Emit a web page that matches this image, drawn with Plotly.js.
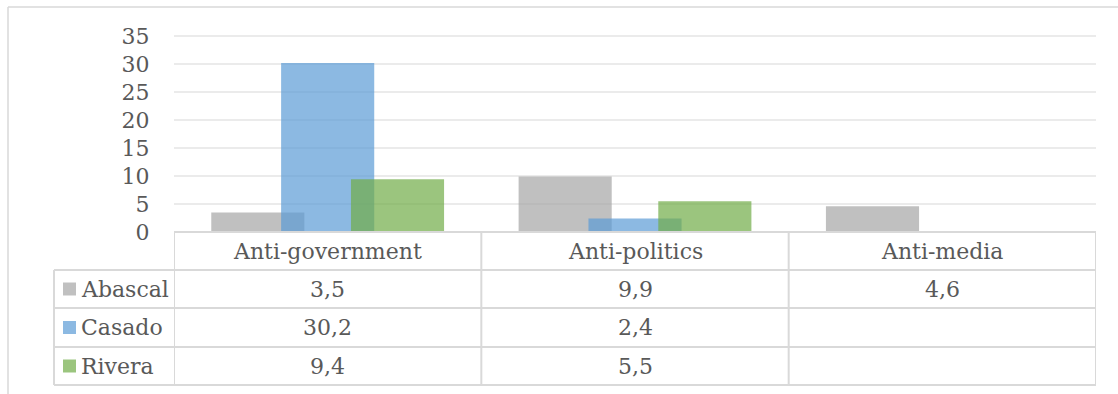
<!DOCTYPE html>
<html>
<head>
<meta charset="utf-8">
<script src="https://cdn.plot.ly/plotly-3.0.1.min.js"></script>
<style>
  html, body { margin: 0; padding: 0; background: #ffffff; }
  #chart { width: 1118px; height: 394px; }
</style>
</head>
<body>
<div id="chart"></div>
<script>
// Categories and series values (comma is the decimal mark in the table)
const categories = ['Anti-government', 'Anti-politics', 'Anti-media'];
const seriesNames = ['Abascal', 'Casado', 'Rivera'];
const abascal = [3.5, 9.9, 4.6];
const casado = [30.2, 2.4, null];
const rivera = [9.4, 5.5, null];
const yTicks = [0, 5, 10, 15, 20, 25, 30, 35];

// Office-style accent colours, drawn at 70 % opacity so overlaps show through
const seriesColors = ['rgba(165,165,165,0.7)', 'rgba(91,155,213,0.7)', 'rgba(112,173,71,0.7)'];
const seriesValues = [abascal, casado, rivera];

const W = 1118, H = 394;
const fontFamily = 'DejaVu Serif';
const fontSize = 22;
const textColor = '#595959';
const lineColor = '#d9d9d9';

// page geometry in pixels
const plotLeft = 174, plotRight = 1096;
const axisY = 232, topTickY = 36;
const rowLines = [232, 270, 308, 347, 385];
const tableLeft = 54;
const pxPerUnit = (axisY - topTickY) / 35;
const yMax = 35.5;

const px = x => x / W;
const py = y => (H - y) / H;

// clustered bars with 25 % overlap
const barWidth = 0.303;
const step = barWidth * 0.75;
const firstOffset = -(barWidth + 2 * step) / 2;

const traces = seriesValues.map((vals, i) => ({
  type: 'bar',
  name: seriesNames[i],
  x: categories,
  y: vals,
  width: barWidth,
  offset: firstOffset + i * step,
  marker: { color: seriesColors[i], line: { width: 0 } },
  hoverinfo: 'x+y+name'
}));

const fmt = v => (v === null || v === undefined) ? '' : v.toFixed(1).replace('.', ',');

const textFont = { family: fontFamily, size: fontSize, color: textColor };
const annotations = [];
const shapes = [];
const rowCenter = k => (rowLines[k] + rowLines[k + 1]) / 2;

// header row: category names
categories.forEach(c => {
  annotations.push({
    x: c, xref: 'x', y: py(rowCenter(0)), yref: 'paper',
    text: c, showarrow: false, xanchor: 'center', yanchor: 'middle',
    font: textFont
  });
});

// data rows: legend key, series name and values
seriesNames.forEach((name, i) => {
  const cy = rowCenter(i + 1);
  shapes.push({
    type: 'rect', xref: 'paper', yref: 'paper',
    x0: px(63), x1: px(76), y0: py(cy + 6.5), y1: py(cy - 6.5),
    fillcolor: seriesColors[i], line: { width: 0 }
  });
  annotations.push({
    x: px(79), xref: 'paper', y: py(cy), yref: 'paper',
    text: name, showarrow: false, xanchor: 'left', yanchor: 'middle',
    font: textFont
  });
  categories.forEach((c, j) => {
    annotations.push({
      x: c, xref: 'x', y: py(cy), yref: 'paper',
      text: fmt(seriesValues[i][j]), showarrow: false, xanchor: 'center', yanchor: 'middle',
      font: textFont
    });
  });
});

// table grid
rowLines.forEach((ry, k) => {
  shapes.push({
    type: 'line', xref: 'paper', yref: 'paper',
    x0: px(k === 0 ? plotLeft : tableLeft), x1: px(plotRight),
    y0: py(ry), y1: py(ry),
    line: { color: lineColor, width: 2 }
  });
});
[-0.5, 0.5, 1.5, 2.5].forEach(xv => {
  shapes.push({
    type: 'line', xref: 'x', yref: 'paper',
    x0: xv, x1: xv, y0: py(rowLines[0]), y1: py(rowLines[rowLines.length - 1]),
    line: { color: lineColor, width: 2 }
  });
});
shapes.push({
  type: 'line', xref: 'paper', yref: 'paper',
  x0: px(tableLeft), x1: px(tableLeft), y0: py(rowLines[1]), y1: py(rowLines[rowLines.length - 1]),
  line: { color: lineColor, width: 2 }
});

// chart frame (top and left edges)
shapes.push({
  type: 'line', xref: 'paper', yref: 'paper',
  x0: px(8), x1: 1, y0: py(7), y1: py(7),
  line: { color: lineColor, width: 1.5 }
});
shapes.push({
  type: 'line', xref: 'paper', yref: 'paper',
  x0: px(8), x1: px(8), y0: py(7), y1: 0,
  line: { color: lineColor, width: 1.5 }
});

const layout = {
  width: W, height: H,
  margin: { l: 0, r: 0, t: 0, b: 0, pad: 0 },
  paper_bgcolor: '#ffffff',
  plot_bgcolor: '#ffffff',
  barmode: 'overlay',
  showlegend: false,
  font: textFont,
  xaxis: {
    domain: [px(plotLeft), px(plotRight)],
    range: [-0.5, 2.5],
    type: 'category',
    showticklabels: false,
    showgrid: false,
    zeroline: false,
    showline: false,
    fixedrange: true
  },
  yaxis: {
    domain: [py(axisY), py(axisY - yMax * pxPerUnit)],
    range: [0, yMax],
    tickvals: yTicks,
    ticktext: yTicks.map(String),
    showgrid: true,
    gridcolor: '#ebebeb',
    gridwidth: 1.5,
    zeroline: false,
    showline: false,
    ticks: 'outside',
    ticklen: 19,
    tickcolor: 'rgba(0,0,0,0)',
    tickfont: textFont,
    fixedrange: true
  },
  annotations: annotations,
  shapes: shapes
};

Plotly.newPlot('chart', traces, layout, { displayModeBar: false, staticPlot: true });
</script>
</body>
</html>
